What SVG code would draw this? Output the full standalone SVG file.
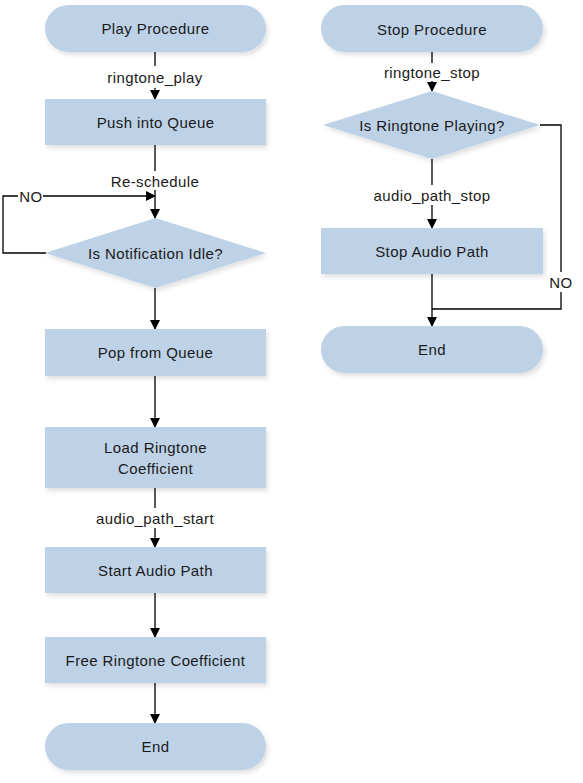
<svg xmlns="http://www.w3.org/2000/svg" width="583" height="783" viewBox="0 0 583 783">
<defs>
<filter id="sh" x="-10%" y="-20%" width="130%" height="150%">
<feDropShadow dx="2" dy="3" stdDeviation="2" flood-color="#000" flood-opacity="0.12"/>
</filter>
<marker id="ah" markerWidth="10" markerHeight="10" refX="9" refY="5" orient="auto" markerUnits="userSpaceOnUse">
<path d="M0,0 L10,5 L0,10 Z" fill="#000"/>
</marker>
</defs>
<style>
.n{fill:#BDD2E7;filter:url(#sh)}
.t{font-family:"Liberation Sans",Arial,sans-serif;font-size:15px;letter-spacing:0.4px;fill:#1a1a1a;text-anchor:middle;dominant-baseline:central}
.c{fill:none;stroke:#000;stroke-width:1.3}
.a{marker-end:url(#ah)}
</style>
<rect width="583" height="783" fill="#fff"/>
<g id="connectors">
<line class="c" x1="155" y1="52" x2="155" y2="66"/>
<line class="c a" x1="155" y1="88" x2="155" y2="99"/>
<line class="c" x1="155" y1="145" x2="155" y2="171"/>
<line class="c a" x1="155" y1="190" x2="155" y2="218"/>
<polyline class="c" points="46,253 3,253 3,196 18,196"/>
<line class="c a" x1="43" y1="196" x2="155" y2="196"/>
<line class="c a" x1="155" y1="288" x2="155" y2="329"/>
<line class="c a" x1="155" y1="376" x2="155" y2="427"/>
<line class="c" x1="155" y1="488" x2="155" y2="508"/>
<line class="c a" x1="155" y1="528" x2="155" y2="547"/>
<line class="c a" x1="155" y1="593" x2="155" y2="637"/>
<line class="c a" x1="155" y1="683" x2="155" y2="723"/>
<line class="c" x1="432" y1="52" x2="432" y2="63"/>
<line class="c a" x1="432" y1="81" x2="432" y2="91"/>
<line class="c" x1="432" y1="159" x2="432" y2="185"/>
<line class="c a" x1="432" y1="205" x2="432" y2="228"/>
<line class="c a" x1="432" y1="274" x2="432" y2="326"/>
<polyline class="c" points="540,125 561,125 561,272"/>
<polyline class="c" points="561,292 561,309 432,309"/>
</g>
<g id="play"><rect class="n" x="45" y="5" width="221" height="47" rx="23.5"/><text class="t" x="155.5" y="28.5">Play Procedure</text></g>
<text class="t" x="155" y="77">ringtone_play</text>
<g id="push"><rect class="n" x="45" y="99" width="221" height="46"/><text class="t" x="155.5" y="122">Push into Queue</text></g>
<text class="t" x="155" y="181">Re-schedule</text>
<text class="t" x="31" y="196">NO</text>
<g id="idle"><polygon class="n" points="155.5,218 266,253 155.5,288 45,253"/><text class="t" x="155.5" y="253">Is Notification Idle?</text></g>
<g id="pop"><rect class="n" x="45" y="329" width="221" height="47"/><text class="t" x="155.5" y="352.5">Pop from Queue</text></g>
<g id="load"><rect class="n" x="45" y="427" width="221" height="61"/><text class="t" x="155.5" y="447.5">Load Ringtone</text><text class="t" x="155.5" y="468">Coefficient</text></g>
<text class="t" x="155" y="518">audio_path_start</text>
<g id="start"><rect class="n" x="45" y="547" width="221" height="46"/><text class="t" x="155.5" y="570">Start Audio Path</text></g>
<g id="free"><rect class="n" x="45" y="637" width="221" height="46"/><text class="t" x="155.5" y="660">Free Ringtone Coefficient</text></g>
<g id="end1"><rect class="n" x="45" y="723" width="221" height="47" rx="23.5"/><text class="t" x="155.5" y="746.5">End</text></g>
<g id="stop"><rect class="n" x="321" y="5" width="222" height="47" rx="23.5"/><text class="t" x="432" y="29">Stop Procedure</text></g>
<text class="t" x="432" y="72">ringtone_stop</text>
<g id="playing"><polygon class="n" points="432,91 540,125 432,159 323,125"/><text class="t" x="432" y="125">Is Ringtone Playing?</text></g>
<text class="t" x="432" y="195">audio_path_stop</text>
<g id="stopaudio"><rect class="n" x="321" y="228" width="222" height="46"/><text class="t" x="432" y="251">Stop Audio Path</text></g>
<text class="t" x="561" y="282">NO</text>
<g id="end2"><rect class="n" x="321" y="326" width="222" height="47" rx="23.5"/><text class="t" x="432" y="349.5">End</text></g>
</svg>
